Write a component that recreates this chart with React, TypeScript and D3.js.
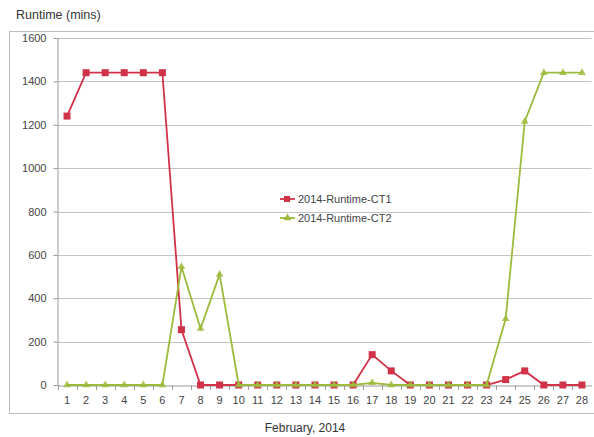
import React, { useRef, useEffect } from 'react';
import * as d3 from 'd3';

const days = d3.range(1, 29).map(String);
const ct1 = [1240, 1440, 1440, 1440, 1440, 1440, 255, 0, 0, 0, 0, 0, 0, 0, 0, 0, 140, 65, 0, 0, 0, 0, 0, 25, 65, 0, 0, 0];
const ct2 = [0, 0, 0, 0, 0, 0, 545, 260, 510, 0, 0, 0, 0, 0, 0, 0, 10, 0, 0, 0, 0, 0, 0, 305, 1215, 1440, 1440, 1440];
const yTicks = [0, 200, 400, 600, 800, 1000, 1200, 1400, 1600];
const seriesNames = ['2014-Runtime-CT1', '2014-Runtime-CT2'];

const W = 594;
const H = 437;
const RED = '#d03348';
const GREEN = '#9cbb3c';
const FONT = '"Liberation Sans", Arial, sans-serif';

const App: React.FC = () => {
  const ref = useRef<SVGSVGElement | null>(null);

  useEffect(() => {
    const svg = d3.select(ref.current);
    svg.selectAll('*').remove();

    const left = 57.5, right = 591.5, top = 38, bottom = 385;

    const x = d3.scaleBand<string>().domain(days).range([left, right]);
    const y = d3.scaleLinear().domain([0, 1600]).range([bottom, top]);
    const cx = (d: string) => (x(d) ?? 0) + x.bandwidth() / 2;

    // outer frame
    svg.append('rect')
      .attr('x', 9.5).attr('y', 31.5)
      .attr('width', 590).attr('height', 382)
      .attr('fill', 'none').attr('stroke', '#bdbdbd').attr('stroke-width', 1);

    svg.append('text')
      .attr('x', 16).attr('y', 19)
      .attr('font-family', FONT).attr('font-size', 12.5).attr('fill', '#333')
      .text('Runtime (mins)');

    // gridlines
    svg.append('g')
      .selectAll('line')
      .data(yTicks.filter(t => t > 0))
      .join('line')
      .attr('x1', left).attr('x2', right)
      .attr('y1', d => Math.round(y(d)) + 0.5).attr('y2', d => Math.round(y(d)) + 0.5)
      .attr('stroke', '#c4c4c4').attr('stroke-width', 1);

    // y axis
    const yAxis = svg.append('g')
      .attr('transform', `translate(${left},0)`)
      .call(d3.axisLeft(y).tickValues(yTicks).tickFormat(d3.format('d')).tickSize(4).tickPadding(7));
    yAxis.select('.domain').attr('stroke', '#9a9a9a');
    yAxis.selectAll('.tick line').attr('stroke', '#9a9a9a');
    yAxis.selectAll('text').attr('font-family', FONT).attr('font-size', 11).attr('fill', '#444');

    // x axis
    const xAxis = svg.append('g')
      .attr('transform', `translate(0,${Math.round(bottom) + 0.5})`)
      .call(d3.axisBottom(x).tickSize(0).tickPadding(11));
    xAxis.select('.domain').attr('stroke', '#9a9a9a');
    xAxis.selectAll('text').attr('font-family', FONT).attr('font-size', 11).attr('fill', '#444');

    // category separators
    svg.append('g')
      .selectAll('line')
      .data(days)
      .join('line')
      .attr('x1', d => Math.round(x(d) ?? 0) + 0.5).attr('x2', d => Math.round(x(d) ?? 0) + 0.5)
      .attr('y1', bottom).attr('y2', bottom + 5)
      .attr('stroke', '#9a9a9a');

    svg.append('text')
      .attr('x', 305).attr('y', 432)
      .attr('text-anchor', 'middle')
      .attr('font-family', FONT).attr('font-size', 12).attr('fill', '#333')
      .text('February, 2014');

    const line = d3.line<number>()
      .x((_, i) => cx(days[i]))
      .y(d => y(d));

    // CT1
    svg.append('path')
      .datum(ct1)
      .attr('d', line)
      .attr('fill', 'none').attr('stroke', RED).attr('stroke-width', 1.8);
    svg.append('g')
      .selectAll('rect')
      .data(ct1)
      .join('rect')
      .attr('x', (_, i) => cx(days[i]) - 3.5).attr('y', d => y(d) - 3.5)
      .attr('width', 7).attr('height', 7)
      .attr('fill', RED);

    // CT2
    const tri = d3.symbol().type(d3.symbolTriangle).size(26);
    svg.append('path')
      .datum(ct2)
      .attr('d', line)
      .attr('fill', 'none').attr('stroke', GREEN).attr('stroke-width', 1.8);
    svg.append('g')
      .selectAll('path')
      .data(ct2)
      .join('path')
      .attr('d', tri)
      .attr('transform', (d, i) => `translate(${cx(days[i])},${y(d)})`)
      .attr('fill', GREEN).attr('opacity', 0.85);

    // legend
    const legend = svg.append('g').attr('transform', 'translate(280,199)');
    [RED, GREEN].forEach((c, i) => {
      const g = legend.append('g').attr('transform', `translate(0,${i * 19})`);
      g.append('line').attr('x1', 0).attr('x2', 15).attr('stroke', c).attr('stroke-width', 1.8);
      if (i === 0) {
        g.append('rect').attr('x', 4).attr('y', -3).attr('width', 6).attr('height', 6).attr('fill', c);
      } else {
        g.append('path').attr('d', tri).attr('transform', 'translate(7.5,0)').attr('fill', c);
      }
      g.append('text')
        .attr('x', 18).attr('y', 4)
        .attr('font-family', FONT).attr('font-size', 11).attr('fill', '#444')
        .text(seriesNames[i]);
    });
  }, []);

  return (
    <svg ref={ref} width={W} height={H} style={{ position: 'absolute', left: 0, top: 0, background: '#fff' }} />
  );
};

export default App;
